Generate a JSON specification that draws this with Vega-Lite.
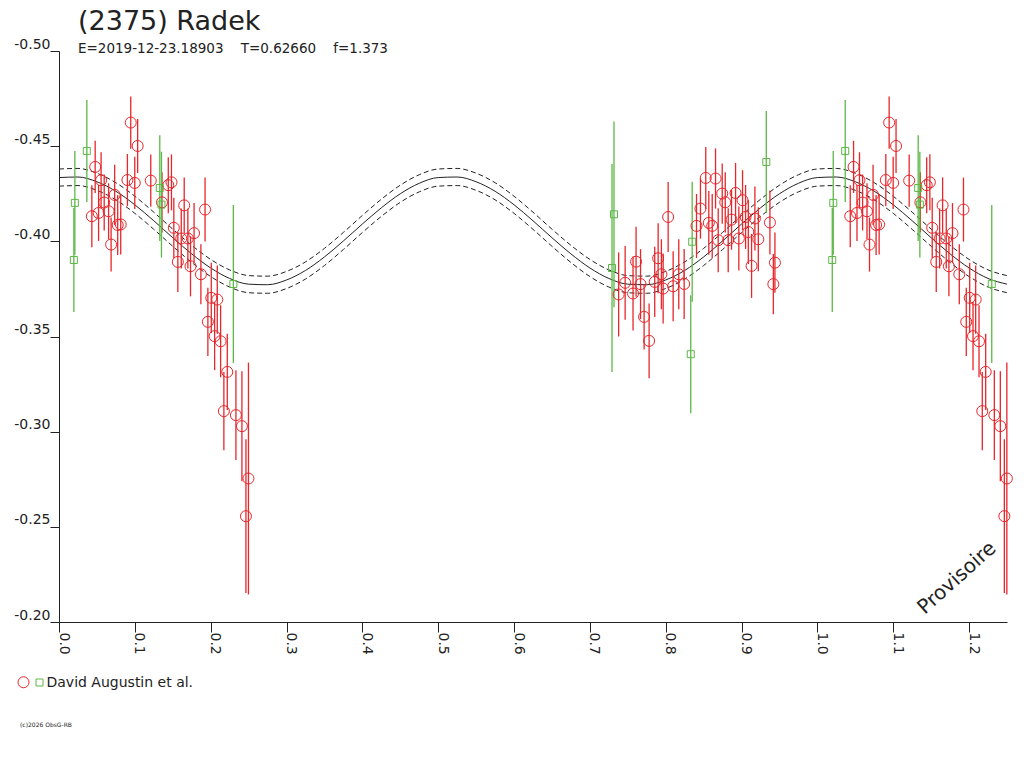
{
  "$schema": "https://vega.github.io/schema/vega-lite/v6.json",
  "width": 948,
  "height": 571,
  "autosize": {"type": "none"},
  "padding": {"left": 59, "top": 51, "right": 17, "bottom": 146},
  "background": "white",
  "title": {
    "text": "(2375) Radek",
    "subtitle": "E=2019-12-23.18903\u00a0\u00a0\u00a0\u00a0T=0.62660\u00a0\u00a0\u00a0\u00a0f=1.373",
    "anchor": "start",
    "frame": "group",
    "dx": 19,
    "offset": -19,
    "font": "DejaVu Sans",
    "fontSize": 27,
    "fontWeight": "normal",
    "color": "#222",
    "subtitleFont": "DejaVu Sans",
    "subtitleFontSize": 13.5,
    "subtitleColor": "#222",
    "subtitlePadding": 6
  },
  "datasets": {
    "fit": [
      {"p": 0.000, "fit": -0.4335, "hi": -0.4380, "lo": -0.4290},
      {"p": 0.025, "fit": -0.4338, "hi": -0.4383, "lo": -0.4293},
      {"p": 0.050, "fit": -0.4313, "hi": -0.4358, "lo": -0.4268},
      {"p": 0.075, "fit": -0.4263, "hi": -0.4308, "lo": -0.4218},
      {"p": 0.100, "fit": -0.4192, "hi": -0.4237, "lo": -0.4147},
      {"p": 0.125, "fit": -0.4108, "hi": -0.4153, "lo": -0.4063},
      {"p": 0.150, "fit": -0.4019, "hi": -0.4064, "lo": -0.3974},
      {"p": 0.175, "fit": -0.3934, "hi": -0.3979, "lo": -0.3889},
      {"p": 0.200, "fit": -0.3860, "hi": -0.3905, "lo": -0.3815},
      {"p": 0.225, "fit": -0.3805, "hi": -0.3850, "lo": -0.3760},
      {"p": 0.250, "fit": -0.3775, "hi": -0.3820, "lo": -0.3730},
      {"p": 0.275, "fit": -0.3772, "hi": -0.3817, "lo": -0.3727},
      {"p": 0.300, "fit": -0.3797, "hi": -0.3842, "lo": -0.3752},
      {"p": 0.325, "fit": -0.3847, "hi": -0.3892, "lo": -0.3802},
      {"p": 0.350, "fit": -0.3918, "hi": -0.3963, "lo": -0.3873},
      {"p": 0.375, "fit": -0.4002, "hi": -0.4047, "lo": -0.3957},
      {"p": 0.400, "fit": -0.4091, "hi": -0.4136, "lo": -0.4046},
      {"p": 0.425, "fit": -0.4176, "hi": -0.4221, "lo": -0.4131},
      {"p": 0.450, "fit": -0.4250, "hi": -0.4295, "lo": -0.4205},
      {"p": 0.475, "fit": -0.4305, "hi": -0.4350, "lo": -0.4260},
      {"p": 0.500, "fit": -0.4335, "hi": -0.4380, "lo": -0.4290},
      {"p": 0.525, "fit": -0.4338, "hi": -0.4383, "lo": -0.4293},
      {"p": 0.550, "fit": -0.4313, "hi": -0.4358, "lo": -0.4268},
      {"p": 0.575, "fit": -0.4263, "hi": -0.4308, "lo": -0.4218},
      {"p": 0.600, "fit": -0.4192, "hi": -0.4237, "lo": -0.4147},
      {"p": 0.625, "fit": -0.4108, "hi": -0.4153, "lo": -0.4063},
      {"p": 0.650, "fit": -0.4019, "hi": -0.4064, "lo": -0.3974},
      {"p": 0.675, "fit": -0.3934, "hi": -0.3979, "lo": -0.3889},
      {"p": 0.700, "fit": -0.3860, "hi": -0.3905, "lo": -0.3815},
      {"p": 0.725, "fit": -0.3805, "hi": -0.3850, "lo": -0.3760},
      {"p": 0.750, "fit": -0.3775, "hi": -0.3820, "lo": -0.3730},
      {"p": 0.775, "fit": -0.3772, "hi": -0.3817, "lo": -0.3727},
      {"p": 0.800, "fit": -0.3797, "hi": -0.3842, "lo": -0.3752},
      {"p": 0.825, "fit": -0.3847, "hi": -0.3892, "lo": -0.3802},
      {"p": 0.850, "fit": -0.3918, "hi": -0.3963, "lo": -0.3873},
      {"p": 0.875, "fit": -0.4002, "hi": -0.4047, "lo": -0.3957},
      {"p": 0.900, "fit": -0.4091, "hi": -0.4136, "lo": -0.4046},
      {"p": 0.925, "fit": -0.4176, "hi": -0.4221, "lo": -0.4131},
      {"p": 0.950, "fit": -0.4250, "hi": -0.4295, "lo": -0.4205},
      {"p": 0.975, "fit": -0.4305, "hi": -0.4350, "lo": -0.4260},
      {"p": 1.000, "fit": -0.4335, "hi": -0.4380, "lo": -0.4290},
      {"p": 1.025, "fit": -0.4338, "hi": -0.4383, "lo": -0.4293},
      {"p": 1.050, "fit": -0.4313, "hi": -0.4358, "lo": -0.4268},
      {"p": 1.075, "fit": -0.4263, "hi": -0.4308, "lo": -0.4218},
      {"p": 1.100, "fit": -0.4192, "hi": -0.4237, "lo": -0.4147},
      {"p": 1.125, "fit": -0.4108, "hi": -0.4153, "lo": -0.4063},
      {"p": 1.150, "fit": -0.4019, "hi": -0.4064, "lo": -0.3974},
      {"p": 1.175, "fit": -0.3934, "hi": -0.3979, "lo": -0.3889},
      {"p": 1.200, "fit": -0.3860, "hi": -0.3905, "lo": -0.3815},
      {"p": 1.225, "fit": -0.3805, "hi": -0.3850, "lo": -0.3760},
      {"p": 1.250, "fit": -0.3775, "hi": -0.3820, "lo": -0.3730}
    ],
    "obs": [
      {"p": 0.0946, "m": -0.4624, "e": 0.0137, "s": "A"},
      {"p": 0.1037, "m": -0.4501, "e": 0.0142, "s": "A"},
      {"p": 0.0477, "m": -0.4391, "e": 0.0137, "s": "A"},
      {"p": 0.0555, "m": -0.4321, "e": 0.0147, "s": "A"},
      {"p": 0.0596, "m": -0.4204, "e": 0.0147, "s": "A"},
      {"p": 0.0433, "m": -0.4132, "e": 0.0163, "s": "A"},
      {"p": 0.0522, "m": -0.4149, "e": 0.0147, "s": "A"},
      {"p": 0.0654, "m": -0.4158, "e": 0.0147, "s": "A"},
      {"p": 0.0734, "m": -0.4244, "e": 0.0158, "s": "A"},
      {"p": 0.0774, "m": -0.4086, "e": 0.0158, "s": "A"},
      {"p": 0.0814, "m": -0.4089, "e": 0.0158, "s": "A"},
      {"p": 0.0687, "m": -0.3983, "e": 0.0142, "s": "A"},
      {"p": 0.0902, "m": -0.4322, "e": 0.0137, "s": "A"},
      {"p": 0.0999, "m": -0.4307, "e": 0.0137, "s": "A"},
      {"p": 0.1210, "m": -0.4319, "e": 0.0137, "s": "A"},
      {"p": 0.1358, "m": -0.4205, "e": 0.0158, "s": "A"},
      {"p": 0.1441, "m": -0.4295, "e": 0.0147, "s": "A"},
      {"p": 0.1483, "m": -0.4310, "e": 0.0147, "s": "A"},
      {"p": 0.1514, "m": -0.4071, "e": 0.0158, "s": "A"},
      {"p": 0.1651, "m": -0.4189, "e": 0.0147, "s": "A"},
      {"p": 0.1926, "m": -0.4167, "e": 0.0168, "s": "A"},
      {"p": 0.1612, "m": -0.4015, "e": 0.0158, "s": "A"},
      {"p": 0.1699, "m": -0.4015, "e": 0.0158, "s": "A"},
      {"p": 0.1781, "m": -0.4043, "e": 0.0158, "s": "A"},
      {"p": 0.1567, "m": -0.3892, "e": 0.0158, "s": "A"},
      {"p": 0.1734, "m": -0.3869, "e": 0.0158, "s": "A"},
      {"p": 0.1871, "m": -0.3827, "e": 0.0158, "s": "A"},
      {"p": 0.2008, "m": -0.3703, "e": 0.0184, "s": "A"},
      {"p": 0.2087, "m": -0.3694, "e": 0.0179, "s": "A"},
      {"p": 0.1963, "m": -0.3577, "e": 0.0179, "s": "A"},
      {"p": 0.2052, "m": -0.3502, "e": 0.0179, "s": "A"},
      {"p": 0.2131, "m": -0.3475, "e": 0.0189, "s": "A"},
      {"p": 0.2219, "m": -0.3314, "e": 0.0200, "s": "A"},
      {"p": 0.2174, "m": -0.3108, "e": 0.0205, "s": "A"},
      {"p": 0.2333, "m": -0.3087, "e": 0.0236, "s": "A"},
      {"p": 0.2412, "m": -0.3029, "e": 0.0289, "s": "A"},
      {"p": 0.2498, "m": -0.2754, "e": 0.0609, "s": "A"},
      {"p": 0.2465, "m": -0.2556, "e": 0.0404, "s": "A"},
      {"p": 1.0946, "m": -0.4624, "e": 0.0137, "s": "A"},
      {"p": 1.1037, "m": -0.4501, "e": 0.0142, "s": "A"},
      {"p": 1.0477, "m": -0.4391, "e": 0.0137, "s": "A"},
      {"p": 1.0555, "m": -0.4321, "e": 0.0147, "s": "A"},
      {"p": 1.0596, "m": -0.4204, "e": 0.0147, "s": "A"},
      {"p": 1.0433, "m": -0.4132, "e": 0.0163, "s": "A"},
      {"p": 1.0522, "m": -0.4149, "e": 0.0147, "s": "A"},
      {"p": 1.0654, "m": -0.4158, "e": 0.0147, "s": "A"},
      {"p": 1.0734, "m": -0.4244, "e": 0.0158, "s": "A"},
      {"p": 1.0774, "m": -0.4086, "e": 0.0158, "s": "A"},
      {"p": 1.0814, "m": -0.4089, "e": 0.0158, "s": "A"},
      {"p": 1.0687, "m": -0.3983, "e": 0.0142, "s": "A"},
      {"p": 1.0902, "m": -0.4322, "e": 0.0137, "s": "A"},
      {"p": 1.0999, "m": -0.4307, "e": 0.0137, "s": "A"},
      {"p": 1.1210, "m": -0.4319, "e": 0.0137, "s": "A"},
      {"p": 1.1358, "m": -0.4205, "e": 0.0158, "s": "A"},
      {"p": 1.1441, "m": -0.4295, "e": 0.0147, "s": "A"},
      {"p": 1.1483, "m": -0.4310, "e": 0.0147, "s": "A"},
      {"p": 1.1514, "m": -0.4071, "e": 0.0158, "s": "A"},
      {"p": 1.1651, "m": -0.4189, "e": 0.0147, "s": "A"},
      {"p": 1.1926, "m": -0.4167, "e": 0.0168, "s": "A"},
      {"p": 1.1612, "m": -0.4015, "e": 0.0158, "s": "A"},
      {"p": 1.1699, "m": -0.4015, "e": 0.0158, "s": "A"},
      {"p": 1.1781, "m": -0.4043, "e": 0.0158, "s": "A"},
      {"p": 1.1567, "m": -0.3892, "e": 0.0158, "s": "A"},
      {"p": 1.1734, "m": -0.3869, "e": 0.0158, "s": "A"},
      {"p": 1.1871, "m": -0.3827, "e": 0.0158, "s": "A"},
      {"p": 1.2008, "m": -0.3703, "e": 0.0184, "s": "A"},
      {"p": 1.2087, "m": -0.3694, "e": 0.0179, "s": "A"},
      {"p": 1.1963, "m": -0.3577, "e": 0.0179, "s": "A"},
      {"p": 1.2052, "m": -0.3502, "e": 0.0179, "s": "A"},
      {"p": 1.2131, "m": -0.3475, "e": 0.0189, "s": "A"},
      {"p": 1.2219, "m": -0.3314, "e": 0.0200, "s": "A"},
      {"p": 1.2174, "m": -0.3108, "e": 0.0205, "s": "A"},
      {"p": 1.2333, "m": -0.3087, "e": 0.0236, "s": "A"},
      {"p": 1.2412, "m": -0.3029, "e": 0.0289, "s": "A"},
      {"p": 1.2498, "m": -0.2754, "e": 0.0609, "s": "A"},
      {"p": 1.2465, "m": -0.2556, "e": 0.0404, "s": "A"},
      {"p": 0.8032, "m": -0.4128, "e": 0.0184, "s": "A"},
      {"p": 0.8528, "m": -0.4333, "e": 0.0163, "s": "A"},
      {"p": 0.8657, "m": -0.4330, "e": 0.0158, "s": "A"},
      {"p": 0.8745, "m": -0.4251, "e": 0.0158, "s": "A"},
      {"p": 0.8921, "m": -0.4254, "e": 0.0158, "s": "A"},
      {"p": 0.9013, "m": -0.4216, "e": 0.0158, "s": "A"},
      {"p": 0.8785, "m": -0.4205, "e": 0.0158, "s": "A"},
      {"p": 0.8458, "m": -0.4172, "e": 0.0158, "s": "A"},
      {"p": 0.8868, "m": -0.4114, "e": 0.0158, "s": "A"},
      {"p": 0.8406, "m": -0.4081, "e": 0.0168, "s": "A"},
      {"p": 0.8568, "m": -0.4097, "e": 0.0168, "s": "A"},
      {"p": 0.8613, "m": -0.4081, "e": 0.0168, "s": "A"},
      {"p": 0.9053, "m": -0.4128, "e": 0.0168, "s": "A"},
      {"p": 0.9176, "m": -0.4120, "e": 0.0168, "s": "A"},
      {"p": 0.9374, "m": -0.4099, "e": 0.0168, "s": "A"},
      {"p": 0.9089, "m": -0.4049, "e": 0.0168, "s": "A"},
      {"p": 0.8692, "m": -0.4006, "e": 0.0168, "s": "A"},
      {"p": 0.8824, "m": -0.4006, "e": 0.0168, "s": "A"},
      {"p": 0.8964, "m": -0.4015, "e": 0.0168, "s": "A"},
      {"p": 0.9221, "m": -0.4011, "e": 0.0168, "s": "A"},
      {"p": 0.9132, "m": -0.3871, "e": 0.0168, "s": "A"},
      {"p": 0.9440, "m": -0.3888, "e": 0.0158, "s": "A"},
      {"p": 0.9419, "m": -0.3775, "e": 0.0158, "s": "A"},
      {"p": 0.7609, "m": -0.3893, "e": 0.0184, "s": "A"},
      {"p": 0.7900, "m": -0.3911, "e": 0.0184, "s": "A"},
      {"p": 0.7465, "m": -0.3782, "e": 0.0194, "s": "A"},
      {"p": 0.7668, "m": -0.3775, "e": 0.0184, "s": "A"},
      {"p": 0.7943, "m": -0.3827, "e": 0.0184, "s": "A"},
      {"p": 0.8172, "m": -0.3827, "e": 0.0184, "s": "A"},
      {"p": 0.8243, "m": -0.3776, "e": 0.0184, "s": "A"},
      {"p": 0.8098, "m": -0.3764, "e": 0.0184, "s": "A"},
      {"p": 0.7379, "m": -0.3721, "e": 0.0221, "s": "A"},
      {"p": 0.7569, "m": -0.3726, "e": 0.0194, "s": "A"},
      {"p": 0.7855, "m": -0.3787, "e": 0.0184, "s": "A"},
      {"p": 0.7966, "m": -0.3752, "e": 0.0184, "s": "A"},
      {"p": 0.7715, "m": -0.3603, "e": 0.0171, "s": "A"},
      {"p": 0.7781, "m": -0.3477, "e": 0.0197, "s": "A"},
      {"p": 0.0209, "m": -0.4202, "e": 0.0273, "s": "B"},
      {"p": 0.0196, "m": -0.3902, "e": 0.0273, "s": "B"},
      {"p": 0.0367, "m": -0.4475, "e": 0.0268, "s": "B"},
      {"p": 0.1329, "m": -0.4280, "e": 0.0278, "s": "B"},
      {"p": 0.1351, "m": -0.4193, "e": 0.0278, "s": "B"},
      {"p": 0.2299, "m": -0.3776, "e": 0.0415, "s": "B"},
      {"p": 1.0209, "m": -0.4202, "e": 0.0273, "s": "B"},
      {"p": 1.0196, "m": -0.3902, "e": 0.0273, "s": "B"},
      {"p": 1.0367, "m": -0.4475, "e": 0.0268, "s": "B"},
      {"p": 1.1329, "m": -0.4280, "e": 0.0278, "s": "B"},
      {"p": 1.1351, "m": -0.4193, "e": 0.0278, "s": "B"},
      {"p": 1.2299, "m": -0.3776, "e": 0.0415, "s": "B"},
      {"p": 0.7318, "m": -0.4142, "e": 0.0488, "s": "B"},
      {"p": 0.7292, "m": -0.3860, "e": 0.0546, "s": "B"},
      {"p": 0.8349, "m": -0.3998, "e": 0.0315, "s": "B"},
      {"p": 0.8330, "m": -0.3407, "e": 0.0310, "s": "B"},
      {"p": 0.9326, "m": -0.4417, "e": 0.0268, "s": "B"}
    ]
  },
  "layer": [
    {
      "data": {"name": "fit"},
      "mark": {"type": "line", "color": "#222", "strokeWidth": 1, "interpolate": "monotone"},
      "encoding": {
        "x": {
          "field": "p",
          "type": "quantitative",
          "title": null,
          "scale": {"domain": [0, 1.25], "nice": false, "zero": false},
          "axis": {
            "values": [0, 0.05, 0.1, 0.15, 0.2, 0.25, 0.3, 0.35, 0.4, 0.45, 0.5, 0.55, 0.6, 0.65, 0.7, 0.75, 0.8, 0.85, 0.9, 0.95, 1, 1.05, 1.1, 1.15, 1.2, 1.25],
            "labelExpr": "round(datum.value * 20) % 2 == 1 ? '' : format(datum.value, '.1f')",
            "labelAngle": 90,
            "labelAlign": "left",
            "labelBaseline": "alphabetic",
            "tickSize": 10,
            "labelPadding": 0,
            "labelFlush": false,
            "labelOverlap": false
          }
        },
        "y": {
          "field": "fit",
          "type": "quantitative",
          "title": null,
          "scale": {"domain": [-0.5, -0.2], "reverse": true, "nice": false, "zero": false},
          "axis": {
            "values": [-0.5, -0.45, -0.4, -0.35, -0.3, -0.25, -0.2],
            "labelExpr": "'-' + format(abs(datum.value), '.2f')",
            "tickSize": 9,
            "labelPadding": 0,
            "labelBaseline": "bottom",
            "labelFlush": false,
            "labelOverlap": false
          }
        }
      }
    },
    {
      "data": {"name": "fit"},
      "mark": {"type": "line", "color": "#222", "strokeWidth": 1, "strokeDash": [5, 3], "interpolate": "monotone"},
      "encoding": {
        "x": {"field": "p", "type": "quantitative", "title": null},
        "y": {"field": "hi", "type": "quantitative", "title": null}
      }
    },
    {
      "data": {"name": "fit"},
      "mark": {"type": "line", "color": "#222", "strokeWidth": 1, "strokeDash": [5, 3], "interpolate": "monotone"},
      "encoding": {
        "x": {"field": "p", "type": "quantitative", "title": null},
        "y": {"field": "lo", "type": "quantitative", "title": null}
      }
    },
    {
      "data": {"name": "obs"},
      "transform": [{"filter": "datum.s == 'A'"}],
      "mark": {"type": "errorbar", "color": "#e8262b", "thickness": 1.3},
      "encoding": {
        "x": {"field": "p", "type": "quantitative", "title": null},
        "y": {"field": "m", "type": "quantitative", "title": null},
        "yError": {"field": "e"}
      }
    },
    {
      "data": {"name": "obs"},
      "transform": [{"filter": "datum.s == 'B'"}],
      "mark": {"type": "errorbar", "color": "#5cb846", "thickness": 1.3},
      "encoding": {
        "x": {"field": "p", "type": "quantitative", "title": null},
        "y": {"field": "m", "type": "quantitative", "title": null},
        "yError": {"field": "e"}
      }
    },
    {
      "data": {"name": "obs"},
      "mark": {"type": "point", "filled": false, "strokeWidth": 1, "opacity": 1},
      "encoding": {
        "x": {"field": "p", "type": "quantitative", "title": null},
        "y": {"field": "m", "type": "quantitative", "title": null},
        "color": {
          "field": "s",
          "type": "nominal",
          "scale": {"domain": ["A", "B"], "range": ["#e8262b", "#5cb846"]},
          "legend": {
            "title": null,
            "orient": "none",
            "legendX": -42.5,
            "legendY": 624,
            "direction": "horizontal",
            "labelExpr": "datum.value == 'A' ? '' : '\u00a0David Augustin et al.'",
            "labelOffset": 0,
            "columnPadding": 1,
            "padding": 0
          }
        },
        "shape": {
          "field": "s",
          "type": "nominal",
          "scale": {"domain": ["A", "B"], "range": ["circle", "square"]},
          "legend": {
            "title": null,
            "orient": "none",
            "legendX": -42.5,
            "legendY": 624,
            "direction": "horizontal",
            "labelExpr": "datum.value == 'A' ? '' : '\u00a0David Augustin et al.'",
            "labelOffset": 0,
            "columnPadding": 1,
            "padding": 0
          }
        },
        "size": {
          "field": "s",
          "type": "nominal",
          "scale": {"domain": ["A", "B"], "range": [121, 49]},
          "legend": {
            "title": null,
            "orient": "none",
            "legendX": -42.5,
            "legendY": 624,
            "direction": "horizontal",
            "labelExpr": "datum.value == 'A' ? '' : '\u00a0David Augustin et al.'",
            "labelOffset": 0,
            "columnPadding": 1,
            "padding": 0
          }
        }
      }
    },
    {
      "data": {"values": [{}]},
      "mark": {"type": "text", "text": "Provisoire", "angle": -42, "font": "DejaVu Sans", "fontSize": 20, "color": "#222", "align": "center", "baseline": "middle"},
      "encoding": {
        "x": {"datum": 1.184},
        "y": {"datum": -0.2231}
      }
    },
    {
      "data": {"values": [{}]},
      "mark": {"type": "text", "text": "(c)2026 ObsG-RB", "font": "DejaVu Sans", "fontSize": 6, "color": "#222", "align": "left", "baseline": "middle"},
      "encoding": {
        "x": {"datum": -0.0514},
        "y": {"datum": -0.1459}
      }
    }
  ],
  "config": {
    "view": {"stroke": null},
    "font": "DejaVu Sans",
    "axis": {
      "grid": false,
      "domainColor": "#222",
      "tickColor": "#222",
      "labelColor": "#222",
      "labelFont": "DejaVu Sans",
      "labelFontSize": 14
    },
    "legend": {
      "labelFont": "DejaVu Sans",
      "labelFontSize": 14,
      "labelColor": "#222",
      "labelLimit": 0,
      "symbolStrokeWidth": 1
    }
  }
}
